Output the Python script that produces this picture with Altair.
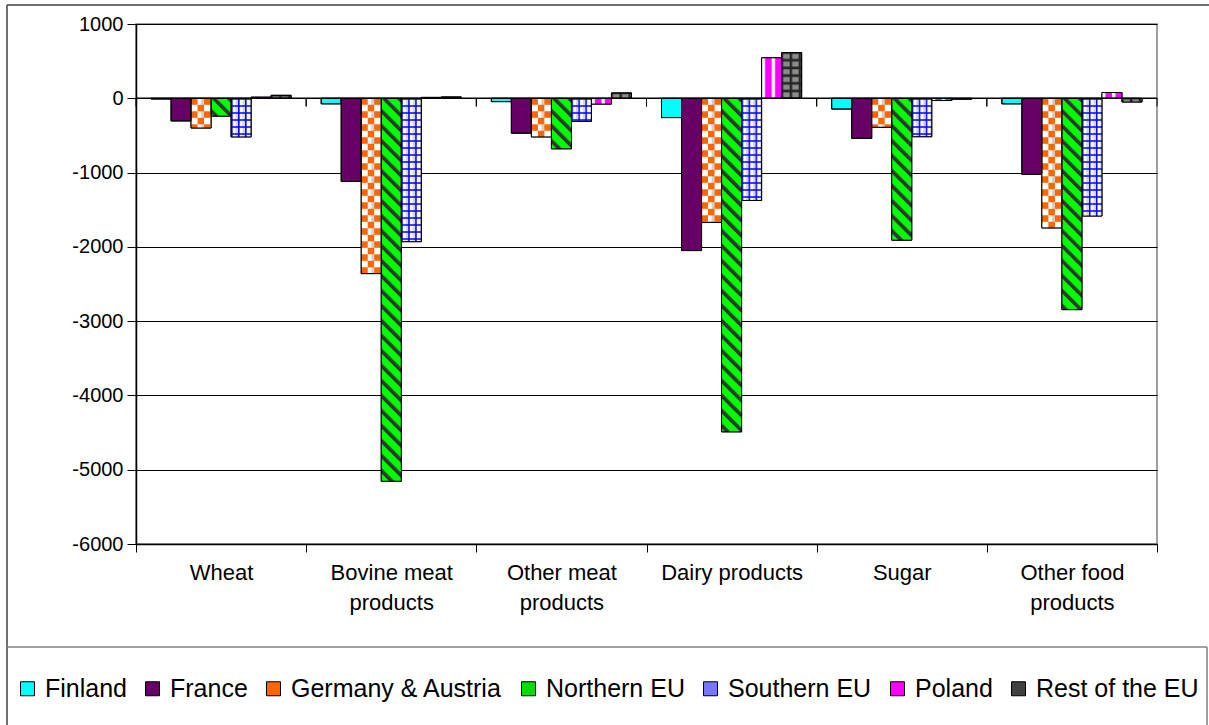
import base64
import altair as alt
import pandas as pd

# ---------------- data ----------------
categories = ["Wheat", "Bovine meat products", "Other meat products",
              "Dairy products", "Sugar", "Other food products"]
series = ["Finland", "France", "Germany & Austria", "Northern EU",
          "Southern EU", "Poland", "Rest of the EU"]

finland = [-10, -75, -45, -260, -145, -75]
france = [-305, -1120, -470, -2050, -540, -1025]
germany_austria = [-400, -2360, -520, -1670, -390, -1745]
northern_eu = [-240, -5155, -680, -4490, -1910, -2845]
southern_eu = [-520, -1930, -310, -1375, -517, -1585]
poland = [15, 12, -78, 545, -30, 78]
rest_of_eu = [40, 18, 72, 614, -12, -50]

y_ticks = [1000, 0, -1000, -2000, -3000, -4000, -5000, -6000]

colors = ["#00FFFF", "#660066", "#FF6600", "#00DD00", "#7777FF", "#FF00FF", "#404040"]

values_by_series = [finland, france, germany_austria, northern_eu,
                    southern_eu, poland, rest_of_eu]

rows = []
for s, vals in zip(series, values_by_series):
    for c, v in zip(categories, vals):
        rows.append({"category": c, "series": s, "value": v})
df = pd.DataFrame(rows)
cat_df = pd.DataFrame({"category": categories})
one_df = pd.DataFrame({"k": [0]})

FONT = "Liberation Sans"

# ---------------- fill patterns (SVG tiles used as bar images) ----------------
def svg_uri(pattern_body, w, h, transform=""):
    tr = f" patternTransform='{transform}'" if transform else ""
    svg = (
        "<svg xmlns='http://www.w3.org/2000/svg' width='100%' height='100%'>"
        f"<defs><pattern id='p' width='{w}' height='{h}' patternUnits='userSpaceOnUse'{tr}>"
        f"{pattern_body}</pattern></defs>"
        "<rect width='100%' height='100%' fill='url(#p)'/></svg>"
    )
    return "data:image/svg+xml;base64," + base64.b64encode(svg.encode()).decode()

patterns = {
    "Germany & Austria": svg_uri(
        "<rect width='13' height='13' fill='#ffffff'/>"
        "<rect width='6.5' height='6.5' fill='#ff6600'/>"
        "<rect x='6.5' y='6.5' width='6.5' height='6.5' fill='#ff6600'/>"
        "<rect x='10' y='0' width='3' height='6.5' fill='#d0d0d0'/>", 13, 13),
    "Northern EU": svg_uri(
        "<rect width='10.6' height='10.6' fill='#00ff00'/>"
        "<rect width='3.6' height='10.6' fill='#333333'/>", 10.6, 10.6, "rotate(-45)"),
    "Southern EU": svg_uri(
        "<rect width='7' height='7' fill='#ffffff'/>"
        "<rect x='4.5' width='2.5' height='7' fill='#d4d4d4'/>"
        "<rect x='0' width='1.5' height='7' fill='#0000ff'/>"
        "<rect y='0' width='7' height='1.5' fill='#0000ff'/>", 7, 7),
    "Poland": svg_uri(
        "<rect width='10' height='10' fill='#f2f2f2'/>"
        "<rect x='3.5' width='6.5' height='10' fill='#ff00ff'/>", 10, 10),
    "Rest of the EU": svg_uri(
        "<rect width='9' height='7.7' fill='#262626'/>"
        "<rect x='1.5' y='1.2' width='6.5' height='5' fill='#8c8c8c'/>", 9, 7.7),
}

# ---------------- scales / axes ----------------
x_scale = alt.Scale(domain=categories, paddingInner=0, paddingOuter=0)
x_axis = alt.Axis(
    title=None, labelAngle=0, tickBand="extent", tickSize=8, tickColor="black",
    domainColor="black", domainWidth=1.5, labelFontSize=22, labelFont=FONT,
    labelColor="black", labelPadding=10, labelLineHeight=30, labelLimit=300,
    grid=False,
    labelExpr=("length(datum.label) > 15 ? "
               "[substring(datum.label, 0, lastindexof(datum.label, ' ')), "
               "substring(datum.label, lastindexof(datum.label, ' ') + 1)] : datum.label"),
)
y_scale = alt.Scale(domain=[-6000, 1000], nice=False)
y_axis = alt.Axis(
    title=None, values=y_ticks, tickSize=9, tickColor="black", domainColor="black",
    domainWidth=1.5, labelFontSize=20, labelFont=FONT, labelColor="black",
    labelPadding=4, labelExpr="'' + datum.value", grid=True, gridColor="black",
    gridWidth=1,
)

X = alt.X("category:N", scale=x_scale, axis=x_axis)
XO = alt.XOffset("series:N", scale=alt.Scale(domain=series, paddingInner=0, paddingOuter=0.75))
Y = alt.Y("value:Q", stack=None, scale=y_scale, axis=y_axis)

legend = alt.Legend(
    title=None, orient="none", legendX=-121, legendY=652, direction="horizontal",
    columns=7, symbolType="square", symbolSize=196, symbolStrokeColor="black",
    symbolStrokeWidth=1, labelFontSize=25, labelFont=FONT, labelColor="black",
    labelOffset=5, columnPadding=13, padding=0, labelLimit=400,
)

base = alt.Chart(df).encode(x=X, xOffset=XO, y=Y)

solid = base.mark_bar(stroke="black", strokeWidth=1).encode(
    fill=alt.Fill("series:N", scale=alt.Scale(domain=series, range=colors), legend=legend)
)

image_layers = []
for s, uri in patterns.items():
    image_layers.append(
        base.transform_filter(alt.datum.series == s)
        .mark_image(aspect=False)
        .encode(y2=alt.datum(0), url=alt.value(uri))
    )

outline = base.mark_bar(fillOpacity=0, stroke="black", strokeWidth=1)

zero_line = alt.Chart(one_df).mark_rule(color="black", strokeWidth=1.5).encode(
    y=alt.Y(datum=0, scale=y_scale, axis=y_axis)
)
zero_ticks_a = alt.Chart(cat_df).mark_rule(color="black", strokeWidth=1).encode(
    x=alt.X("category:N", bandPosition=0, scale=x_scale, axis=x_axis),
    y=alt.Y(datum=0, scale=y_scale, axis=y_axis),
    y2=alt.datum(-110),
)
zero_ticks_b = alt.Chart(cat_df).mark_rule(color="black", strokeWidth=1).encode(
    x=alt.X("category:N", bandPosition=1, scale=x_scale, axis=x_axis),
    y=alt.Y(datum=0, scale=y_scale, axis=y_axis),
    y2=alt.datum(-110),
)

# chart-area frame and legend box (decoration, in pixels relative to plot origin)
frame_top = alt.Chart(one_df).mark_rule(color="#404040", strokeWidth=1.5).encode(
    x=alt.value(-129), x2=alt.value(1073), y=alt.value(-19))
frame_left = alt.Chart(one_df).mark_rule(color="#404040", strokeWidth=1.5).encode(
    x=alt.value(-129), y=alt.value(-19), y2=alt.value(701))
legbox_top = alt.Chart(one_df).mark_rule(color="#808080", strokeWidth=1.5).encode(
    x=alt.value(-129), x2=alt.value(1071), y=alt.value(623))
legbox_right = alt.Chart(one_df).mark_rule(color="#808080", strokeWidth=1.5).encode(
    x=alt.value(1071), y=alt.value(623), y2=alt.value(701))

chart = alt.layer(
    solid, *image_layers, outline, zero_line, zero_ticks_a, zero_ticks_b,
    frame_top, frame_left, legbox_top, legbox_right,
).properties(
    width=1021, height=520,
    padding={"left": 136, "top": 24, "right": 52, "bottom": 181},
    autosize=alt.AutoSizeParams(type="none"),
    background="white",
).configure_view(
    stroke="#808080", strokeWidth=1.5
)

chart.save("out.html", embed_options={"renderer": "svg", "actions": False})
